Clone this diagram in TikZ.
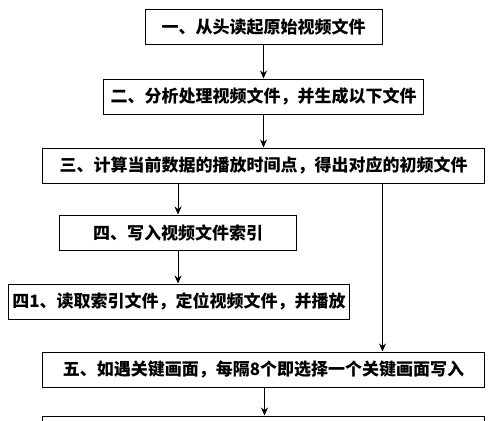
\documentclass[tikz,border=0pt]{standalone}
\usepackage{fontspec}
\setmainfont{Noto Sans CJK SC}
\usetikzlibrary{positioning,arrows.meta}
\tikzset{
  kuang/.style      = {draw, line width=1pt, align=center, inner sep=0pt,
                       minimum height=35pt, font=\fontsize{17pt}{20pt}\selectfont\bfseries},
  kuangchang/.style = {kuang, minimum width=442pt},
  jiantou/.style    = {-{Stealth[length=8pt,width=7pt]}, line width=0.9pt}
}

\begin{document}
\begin{tikzpicture}[node distance=33pt]
        \useasboundingbox (0,0) rectangle (500pt,-420pt);
        \node[kuang, minimum width=237pt] (b1) at (263.5pt,-27.5pt) {一、从头读起原始视频文件};
        \node[kuang, minimum width=320pt, below=of b1] (b2) {二、分析处理视频文件，并生成以下文件};
        \node[kuangchang, below=of b2] (b3) {三、计算当前数据的播放时间点，得出对应的初频文件};
        \node[kuang, minimum width=237pt, below=31pt of b3, xshift=-85.5pt] (b4) {四、写入视频文件索引};
        \node[kuang, minimum width=341pt, below=of b4, xshift=1pt] (b41) {四1、读取索引文件，定位视频文件，并播放};
        \node[kuangchang, below=32pt of b41, xshift=84.5pt] (b5) {五、如遇关键画面，每隔8个即选择一个关键画面写入};
        \node[kuangchang, below=28pt of b5] (b6) {};

        \draw[jiantou] (b1) -- (b2);
        \draw[jiantou] (b2) -- (b3);
        \draw[jiantou] (b4.north |- b3.south) -- (b4.north);
        \draw[jiantou] (b4) -- (b4 |- b41.north);
        \draw[jiantou] ([xshift=119pt]b3.south) -- ([xshift=119pt]b3.south |- b5.north);
        \draw[jiantou] ([xshift=1pt]b5.south) -- ([xshift=1pt]b6.north);
    \end{tikzpicture}
\end{document}
